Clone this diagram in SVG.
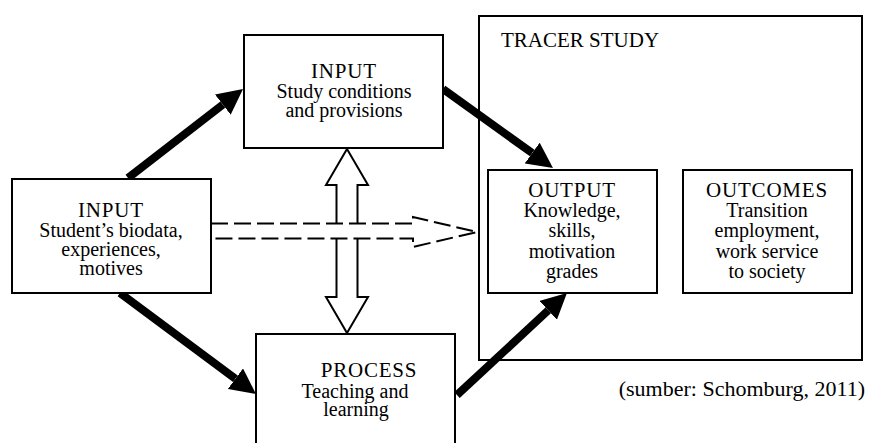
<svg xmlns="http://www.w3.org/2000/svg" width="870" height="443" viewBox="0 0 870 443">
<style>
.box{fill:#fff;stroke:#000;stroke-width:2}
.frame{fill:none;stroke:#000;stroke-width:2}
text{font-family:"Liberation Serif","Times New Roman",serif;fill:#000}
.t{font-size:21px;text-anchor:middle;letter-spacing:0.8px}
.b{font-size:20px;text-anchor:middle}
.thick{stroke:#000;stroke-width:8;fill:none;marker-end:url(#head)}
</style>
<defs>
<marker id="head" markerUnits="strokeWidth" markerWidth="3.2" markerHeight="3.2" refX="0" refY="1.6" orient="auto" viewBox="0 0 3.2 3.2">
<path d="M0,0 L3.2,1.6 L0,3.2 z" fill="#000"/>
</marker>
</defs>
<rect width="870" height="443" fill="#fff"/>
<g id="tracer">
<rect class="frame" x="479" y="16" width="383" height="344"/>
<text x="501" y="47" style="font-size:21px">TRACER STUDY</text>
</g>
<g id="connectors">
<polygon points="347,149 368,185 357.5,185 357.5,297 368,297 347,333 326,297 336.5,297 336.5,185 326,185" fill="#fff" stroke="#000" stroke-width="2"/>
<polygon points="211,223.5 413,223.5 413,217 477,232 413,247 413,238.5 211,238.5" fill="#fff" stroke="none"/>
<polyline points="211,223.5 413,223.5 413,217 477,232 413,247 413,238.5 211,238.5" fill="none" stroke="#000" stroke-width="2" stroke-dasharray="17 6"/>
<line class="thick" x1="128" y1="178" x2="222.8" y2="104.7"/>
<line class="thick" x1="443" y1="89" x2="532.2" y2="153.1"/>
<line class="thick" x1="120" y1="293" x2="235.4" y2="378.7"/>
<line class="thick" x1="457" y1="395" x2="548.2" y2="310.4"/>
</g>
<g id="input-top">
<rect class="box" x="244" y="35" width="199" height="113"/>
<text class="t" x="344" y="78">INPUT</text>
<text class="b" x="344" y="98">Study conditions</text>
<text class="b" x="344" y="117">and provisions</text>
</g>
<g id="input-left">
<rect class="box" x="12" y="179" width="199" height="114"/>
<text class="t" x="111" y="217">INPUT</text>
<text class="b" x="111" y="237">Student’s biodata,</text>
<text class="b" x="111" y="256">experiences,</text>
<text class="b" x="111" y="275">motives</text>
</g>
<g id="process">
<rect class="box" x="256" y="334" width="199" height="120"/>
<text class="t" x="369" y="377">PROCESS</text>
<text class="b" x="355" y="398">Teaching and</text>
<text class="b" x="356" y="416">learning</text>
</g>
<g id="output">
<rect class="box" x="488" y="170" width="169" height="123"/>
<text class="t" x="572" y="197">OUTPUT</text>
<text class="b" x="572" y="217">Knowledge,</text>
<text class="b" x="572" y="237">skills,</text>
<text class="b" x="572" y="258">motivation</text>
<text class="b" x="572" y="278">grades</text>
</g>
<g id="outcomes">
<rect class="box" x="683" y="170" width="169" height="123"/>
<text class="t" x="767" y="197">OUTCOMES</text>
<text class="b" x="767" y="217">Transition</text>
<text class="b" x="767" y="237">employment,</text>
<text class="b" x="767" y="258">work service</text>
<text class="b" x="767" y="278">to society</text>
</g>
<text x="865" y="396" style="font-size:22px;text-anchor:end">(sumber: Schomburg, 2011)</text>
</svg>
